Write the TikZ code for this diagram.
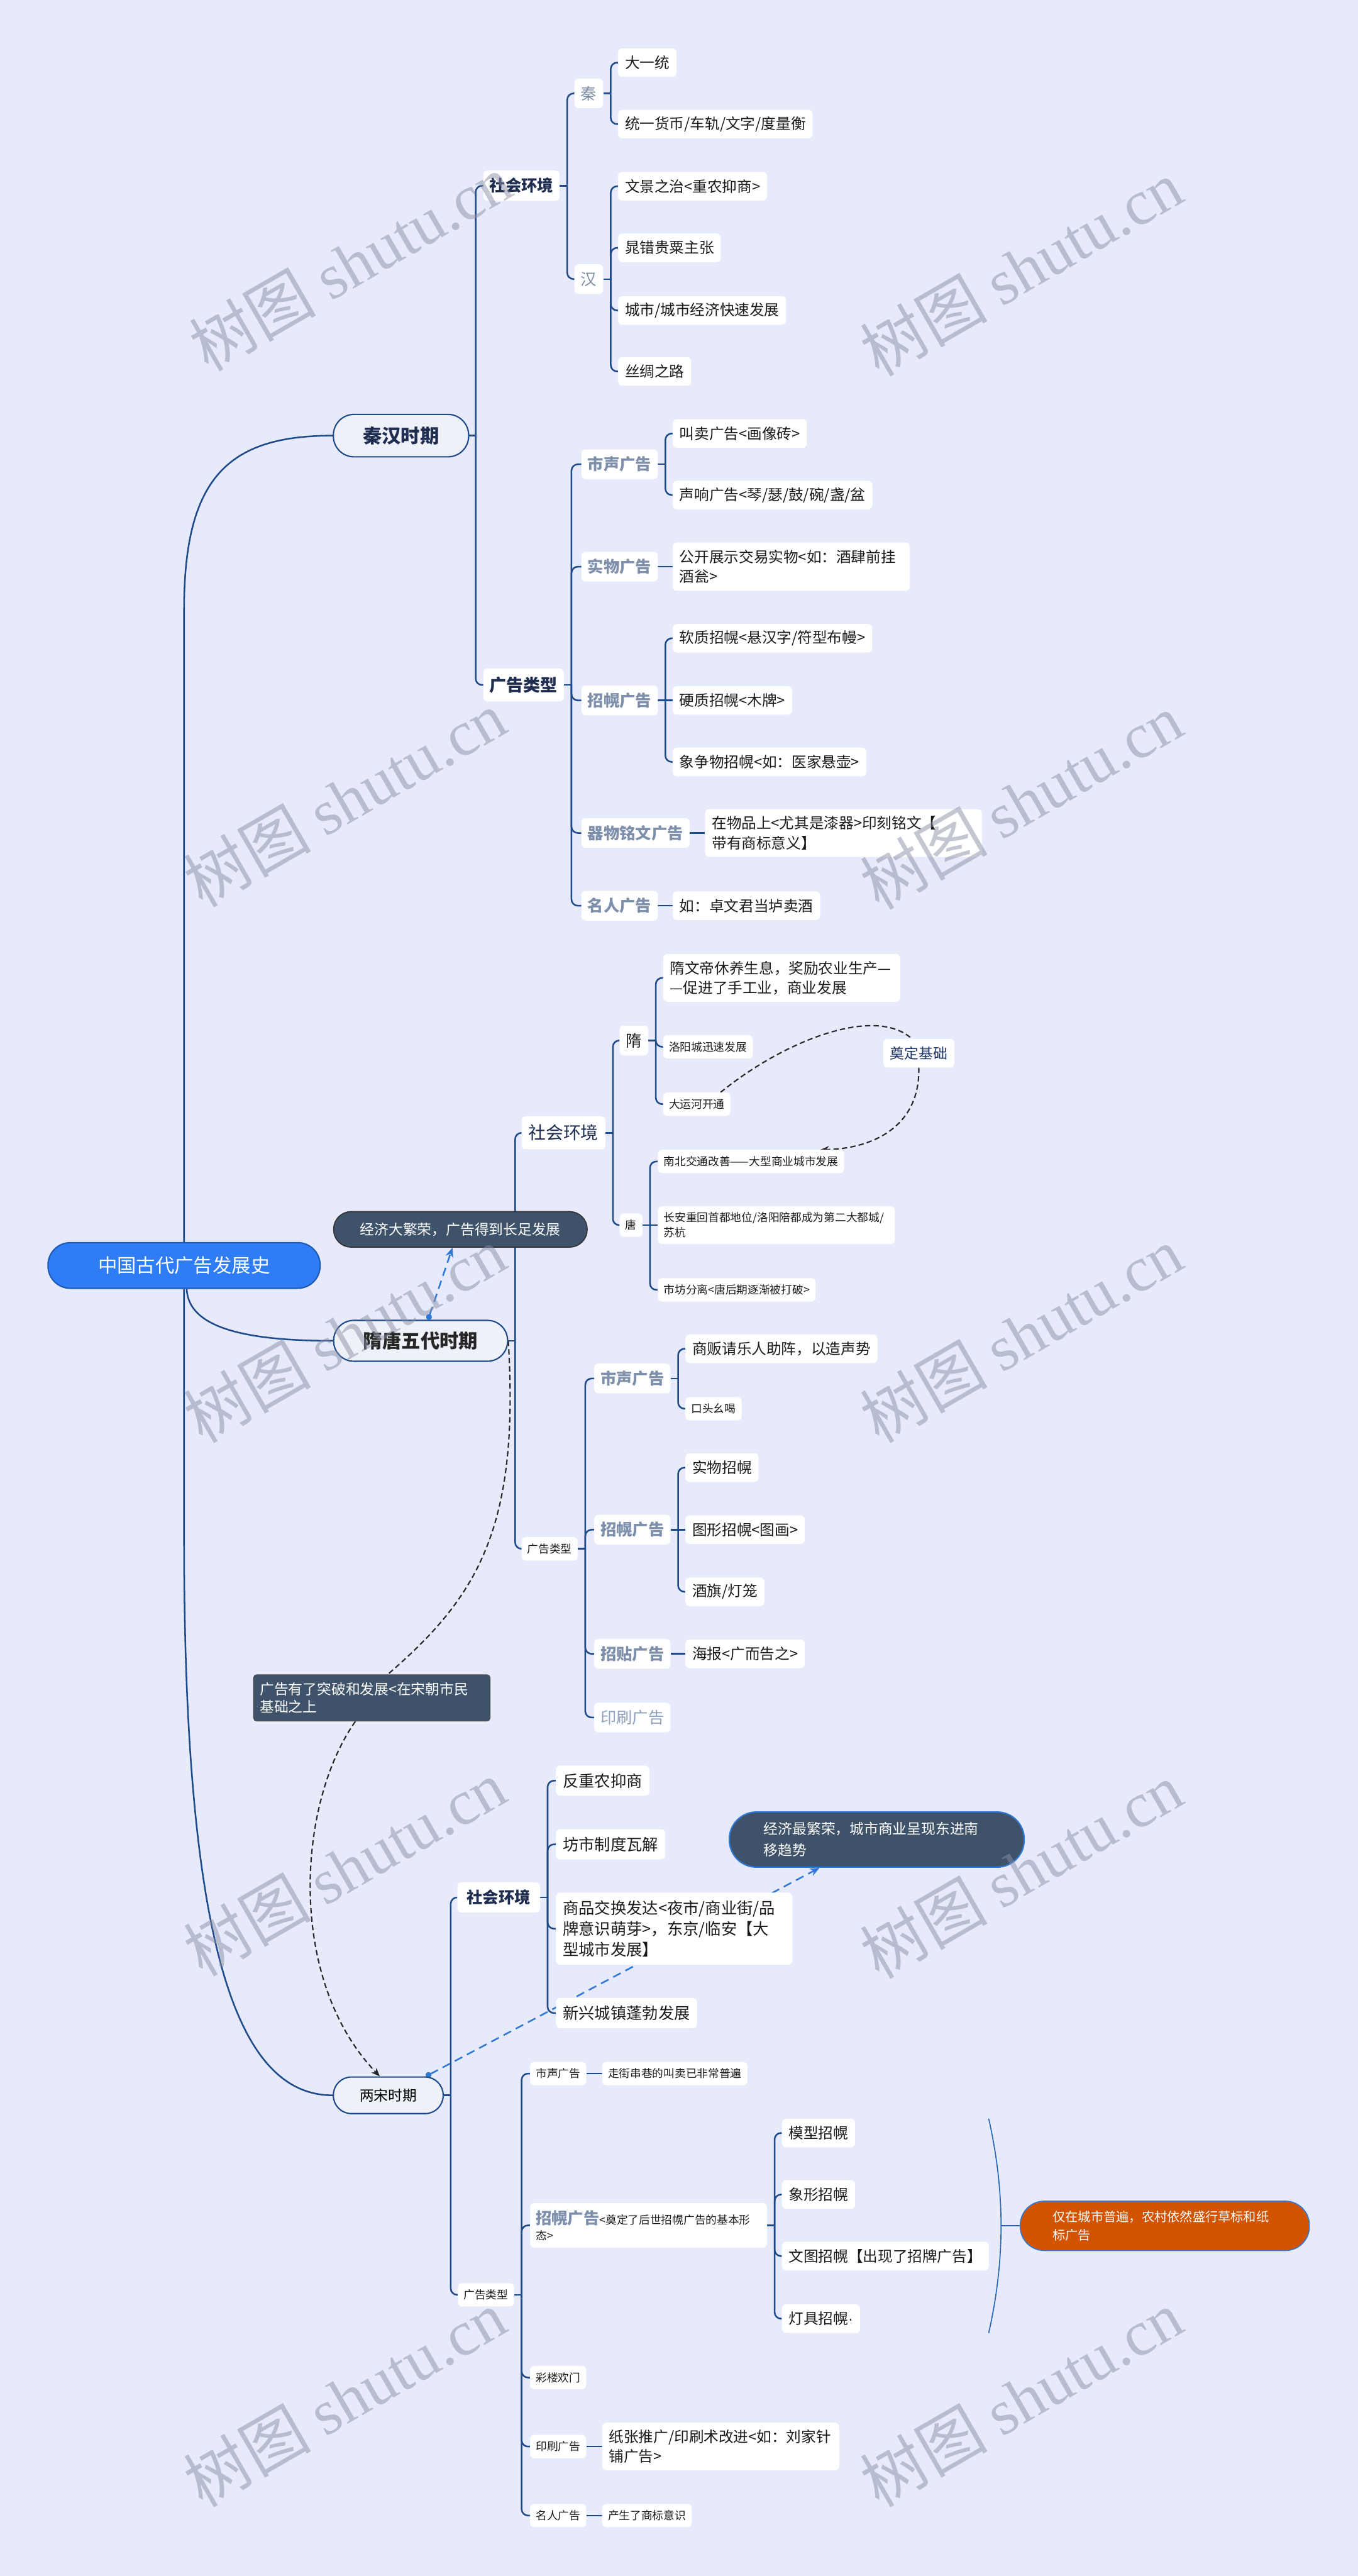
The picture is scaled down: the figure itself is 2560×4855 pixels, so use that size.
\documentclass[tikz,border=0pt]{standalone}
\usepackage{fontspec}
\setmainfont{Noto Sans CJK SC}
\newfontfamily\wmfont{Liberation Serif}
\newfontfamily\latinsans{Liberation Sans}
\usetikzlibrary{arrows.meta}
\definecolor{bgc}{HTML}{E6EAFB}
\definecolor{lnk}{HTML}{1E4A8A}
\definecolor{txt}{HTML}{1A1A1A}
\definecolor{slate}{HTML}{7D8FAB}
\definecolor{slatelt}{HTML}{8FA0BB}
\definecolor{navy}{HTML}{1E2D50}
\definecolor{calloutc}{HTML}{3E526A}
\definecolor{rootc}{HTML}{2F7DF6}
\definecolor{rootb}{HTML}{1E5AB4}
\definecolor{periodf}{HTML}{EEF1F8}
\definecolor{orng}{HTML}{D35400}
\definecolor{bdc}{HTML}{2F78D6}
\definecolor{ddc}{HTML}{1B3163}
\definecolor{wmc}{HTML}{8A8FA6}
\pgfdeclarelayer{bg}
\pgfdeclarelayer{links}
\pgfsetlayers{bg,links,main}
\newcommand\tlink[3]{\draw[link] (#1.east) -- ++(#3,0);
  \draw[link,rounded corners=12pt] (#1.east) ++(#3,0) |- (#2.west);}
\newcommand\slink[2]{\draw[link] (#1.east) -- (#2.west);}
\tikzset{
 link/.style={draw=lnk, line width=3pt},
 box/.style={fill=white, rounded corners=8pt, inner ysep=0pt, anchor=west, align=left, text=txt},
 lf/.style={box, inner xsep=13pt, minimum height=54pt, font=\fontsize{28}{37}\selectfont},
 sl/.style={box, inner xsep=11pt, minimum height=44pt, font=\fontsize{21}{28}\selectfont},
 ml/.style={box, inner xsep=13pt, minimum height=57pt, font=\fontsize{30}{39}\selectfont},
 cat/.style={box, inner xsep=12pt, minimum height=56pt, text=slate, font=\bfseries\fontsize{30}{38}\selectfont},
 sec/.style={box, inner xsep=12pt, minimum height=57pt, text=navy, font=\bfseries\fontsize{30}{38}\selectfont},
 dyn/.style={box, inner xsep=12pt, minimum height=56pt, text=slate, font=\fontsize{30}{38}\selectfont},
 period/.style={fill=periodf, draw=lnk, line width=2.5pt, inner sep=0pt, text=navy, font=\bfseries\fontsize{36}{40}\selectfont},
 rootn/.style={fill=rootc, draw=rootb, line width=2.5pt, inner sep=0pt, text=white, rounded corners=42pt, minimum width=513pt, minimum height=86pt, font=\fontsize{36}{40}\selectfont},
 cbox/.style={fill=calloutc, text=white, inner ysep=0pt, font=\fontsize{27}{34}\selectfont},
 orangebox/.style={fill=orng, draw=bdc, line width=2pt, text=white, rounded corners=45pt, inner xsep=61pt, inner ysep=0pt, text width=423pt, align=left, minimum height=93pt, font=\fontsize{24}{34}\selectfont},
 blk/.style={draw=black!85, line width=2.5pt, dash pattern=on 10pt off 6pt},
 bdash/.style={draw=bdc, line width=3pt, dash pattern=on 16pt off 10pt, {Circle[length=11pt]}-{Stealth[length=18pt,width=15pt]}},
 sumline/.style={draw=bdc!85!black, line width=2pt},
 wm/.style={text=wmc, opacity=0.5, rotate=30, font=\fontsize{120}{120}\selectfont}
}
\begin{document}
\begin{tikzpicture}[x=1pt,y=-1pt]
\useasboundingbox (0,0) rectangle (2560,4855);
\begin{pgfonlayer}{bg}
\fill[bgc] (0,0) rectangle (2560,4855);
\end{pgfonlayer}

% ---------- root and periods
\node[rootn] (root) at (347,2385) {中国古代广告发展史};
\node[period, minimum width=255pt, minimum height=80pt, rounded corners=39pt] (qh) at (756,821) {秦汉时期};
\node[period, minimum width=328pt, minimum height=77pt, rounded corners=38pt, text=black!85] (st) at (793,2527) {隋唐五代时期};
\node[period, minimum width=207pt, minimum height=69pt, rounded corners=34pt, text=black, font=\fontsize{27}{30}\selectfont] (ls) at (732,3949) {两宋时期};

% ---------- Qin Han
\node[sec] (qhs) at (911,350) {社会环境};
\node[sec, font=\bfseries\fontsize{32}{38}\selectfont, minimum height=62pt] (qha) at (911,1291) {广告类型};
\node[dyn] (qin) at (1083,176) {秦};
\node[dyn] (han) at (1083,526) {汉};
\node[lf] (q1) at (1165,118) {大一统};
\node[lf] (q2) at (1165,234) {统一货币/车轨/文字/度量衡};
\node[lf] (h1) at (1165,351) {文景之治<重农抑商>};
\node[lf] (h2) at (1165,467) {晁错贵粟主张};
\node[lf] (h3) at (1165,585) {城市/城市经济快速发展};
\node[lf] (h4) at (1165,700) {丝绸之路};
\node[cat] (qa1) at (1096,875) {市声广告};
\node[cat] (qa2) at (1096,1068) {实物广告};
\node[cat] (qa3) at (1096,1320) {招幌广告};
\node[cat] (qa4) at (1096,1570) {器物铭文广告};
\node[cat] (qa5) at (1096,1707) {名人广告};
\node[lf] (qa11) at (1268,817) {叫卖广告<画像砖>};
\node[lf] (qa12) at (1268,933) {声响广告<琴/瑟/鼓/碗/盏/盆};
\node[lf, text width=421pt, minimum height=91pt] (qa21) at (1268,1068) {公开展示交易实物<如：酒肆前挂\\酒瓮>};
\node[lf] (qa31) at (1268,1203) {软质招幌<悬汉字/符型布幔>};
\node[lf] (qa32) at (1268,1320) {硬质招幌<木牌>};
\node[lf] (qa33) at (1268,1436) {象争物招幌<如：医家悬壶>};
\node[lf, text width=496pt, minimum height=90pt] (qa41) at (1329,1570) {在物品上<尤其是漆器>印刻铭文【\\带有商标意义】};
\node[lf] (qa51) at (1268,1707) {如：卓文君当垆卖酒};

% ---------- Sui Tang
\node[cbox, draw=black!80, line width=2pt, rounded corners=33pt, minimum width=478pt, minimum height=67pt] (jj) at (868,2317) {经济大繁荣，广告得到长足发展};
\node[box, inner xsep=13pt, minimum height=62pt, text=navy, font=\fontsize{33}{38}\selectfont] (sts) at (983,2135) {社会环境};
\node[sl] (sta) at (983,2919) {广告类型};
\node[box, inner xsep=12pt, minimum height=56pt, font=\fontsize{30}{36}\selectfont] (sui) at (1168,1961) {隋};
\node[sl] (tang) at (1168,2309) {唐};
\node[lf, text width=421pt, minimum height=90pt] (s1) at (1250,1843) {隋文帝休养生息，奖励农业生产—\\—促进了手工业，商业发展};
\node[sl] (s2) at (1250,1973) {洛阳城迅速发展};
\node[sl] (s3) at (1250,2081) {大运河开通};
\node[lf, text=ddc, font=\fontsize{27}{34}\selectfont] (ddjc) at (1665,1985) {奠定基础};
\node[sl] (t1) at (1240,2189) {南北交通改善——大型商业城市发展};
\node[sl, text width=425pt, minimum height=71pt] (t2) at (1240,2309) {长安重回首都地位/洛阳陪都成为第二大都城/\\苏杭};
\node[sl] (t3) at (1240,2431) {市坊分离<唐后期逐渐被打破>};
\node[cat] (sa1) at (1120,2598) {市声广告};
\node[cat] (sa2) at (1120,2883) {招幌广告};
\node[cat] (sa3) at (1120,3117) {招贴广告};
\node[cat, text=slatelt, font=\fontsize{30}{38}\selectfont] (sa4) at (1120,3237) {印刷广告};
\node[lf] (sa11) at (1292,2542) {商贩请乐人助阵，以造声势};
\node[sl] (sa12) at (1292,2655) {口头幺喝};
\node[lf] (sa21) at (1292,2766) {实物招幌};
\node[lf] (sa22) at (1292,2883) {图形招幌<图画>};
\node[lf] (sa23) at (1292,3000) {酒旗/灯笼};
\node[lf] (sa31) at (1292,3117) {海报<广而告之>};
\node[cbox, draw=black!70, line width=1.5pt, rounded corners=6pt, inner xsep=12pt, text width=422pt, align=left, minimum height=87pt] (gg) at (701,3200) {广告有了突破和发展<在宋朝市民\\基础之上};

% ---------- Song
\node[sec, minimum width=156pt] (lss) at (862,3576) {社会环境};
\node[sl] (lsa) at (863,4325) {广告类型};
\node[ml] (w1) at (1048,3356) {反重农抑商};
\node[ml] (w2) at (1048,3476) {坊市制度瓦解};
\node[ml, text width=420pt, minimum height=136pt] (w3) at (1048,3635) {商品交换发达<夜市/商业街/品\\牌意识萌芽>，东京/临安【大\\型城市发展】};
\node[ml] (w4) at (1048,3794) {新兴城镇蓬勃发展};
\node[cbox, draw=bdc, line width=2.5pt, rounded corners=51pt, inner xsep=65pt, text width=426pt, align=left, minimum height=104pt, font=\fontsize{27}{40}\selectfont] (jm) at (1653,3467) {经济最繁荣，城市商业呈现东进南\\移趋势};
\node[sl] (la1) at (999,3908) {市声广告};
\node[sl, text width=425pt, minimum height=84pt, font=\fontsize{21}{30}\selectfont] (la2) at (999,4194) {{\bfseries\fontsize{30}{30}\selectfont\color{slate}招幌广告}<奠定了后世招幌广告的基本形\\态>};
\node[sl] (la3) at (999,4481) {彩楼欢门};
\node[sl] (la4) at (999,4611) {印刷广告};
\node[sl] (la5) at (999,4741) {名人广告};
\node[sl] (la11) at (1135,3908) {走街串巷的叫卖已非常普遍};
\node[lf] (la21) at (1474,4020) {模型招幌};
\node[lf] (la22) at (1474,4136) {象形招幌};
\node[lf] (la23) at (1474,4252) {文图招幌【出现了招牌广告】};
\node[lf] (la24) at (1474,4370) {灯具招幌{\latinsans·}};
\node[lf, text width=421pt, minimum height=90pt] (la41) at (1135,4611) {纸张推广/印刷术改进<如：刘家针\\铺广告>};
\node[sl] (la51) at (1135,4741) {产生了商标意识};
\node[orangebox] (org) at (2196,4195) {仅在城市普遍，农村依然盛行草标和纸\\标广告};
\coordinate (bt) at (1864,3993);
\coordinate (bb) at (1864,4397);
\coordinate (bm) at (1887,4195);

% ---------- links
\begin{pgfonlayer}{links}
\draw[link] (root.north) -- (347,1150) .. controls (347,900) and (430,821) .. (qh.west);
\draw[link] ([xshift=5pt]root.south) .. controls (355,2505) and (470,2527) .. (st.west);
\draw[link] (root.south) -- (347,2900) .. controls (347,3680) and (450,3949) .. (ls.west);
\tlink{qh}{qhs}{12}\tlink{qh}{qha}{12}
\tlink{qhs}{qin}{14}\tlink{qhs}{han}{14}
\tlink{qin}{q1}{14}\tlink{qin}{q2}{14}
\tlink{han}{h1}{14}\tlink{han}{h2}{14}\tlink{han}{h3}{14}\tlink{han}{h4}{14}
\tlink{qha}{qa1}{14}\tlink{qha}{qa2}{14}\tlink{qha}{qa3}{14}\tlink{qha}{qa4}{14}\tlink{qha}{qa5}{14}
\tlink{qa1}{qa11}{14}\tlink{qa1}{qa12}{14}
\slink{qa2}{qa21}
\tlink{qa3}{qa31}{14}\slink{qa3}{qa32}\tlink{qa3}{qa33}{14}
\slink{qa4}{qa41}
\slink{qa5}{qa51}
\tlink{st}{sts}{13}\tlink{st}{sta}{13}
\tlink{sts}{sui}{14}\tlink{sts}{tang}{14}
\tlink{sui}{s1}{14}\tlink{sui}{s2}{14}\tlink{sui}{s3}{14}
\tlink{tang}{t1}{14}\slink{tang}{t2}\tlink{tang}{t3}{14}
\tlink{sta}{sa1}{14}\tlink{sta}{sa2}{14}\tlink{sta}{sa3}{14}\tlink{sta}{sa4}{14}
\tlink{sa1}{sa11}{14}\tlink{sa1}{sa12}{14}
\tlink{sa2}{sa21}{14}\slink{sa2}{sa22}\tlink{sa2}{sa23}{14}
\slink{sa3}{sa31}
\tlink{ls}{lss}{13}\tlink{ls}{lsa}{13}
\tlink{lss}{w1}{14}\tlink{lss}{w2}{14}\tlink{lss}{w3}{14}\tlink{lss}{w4}{14}
\tlink{lsa}{la1}{14}\tlink{lsa}{la2}{14}\tlink{lsa}{la3}{14}\tlink{lsa}{la4}{14}\tlink{lsa}{la5}{14}
\slink{la1}{la11}
\tlink{la2}{la21}{14}\tlink{la2}{la22}{14}\tlink{la2}{la23}{14}\tlink{la2}{la24}{14}
\slink{la4}{la41}
\slink{la5}{la51}
% summary bracket
\draw[sumline] (bt) .. controls (1895,4130) and (1895,4260) .. (bb);
\draw[sumline] (bm) -- (org.west);
% relationships
\draw[blk] ([xshift=-19pt]s3.north east) .. controls (1480,1960) and (1650,1895) .. ([xshift=-13pt]ddjc.north);
\draw[blk, -{Stealth[length=16pt,width=13pt]}] (ddjc.south) .. controls (1735,2120) and (1650,2165) .. ([xshift=131pt]t1.north);
\draw[blk] (st.east) .. controls (980,2880) and (900,3010) .. ([xshift=30pt]gg.north);
\draw[blk, -{Stealth[length=16pt,width=13pt]}] ([xshift=-31pt]gg.south) .. controls (560,3400) and (540,3730) .. ([xshift=-16pt]ls.north);
\draw[bdash] ([xshift=14pt]st.north) -- ([xshift=-15pt]jj.south);
\draw[bdash] ([xshift=71pt]ls.north) -- ([xshift=-108pt]jm.south);
\end{pgfonlayer}

% ---------- watermarks
\foreach [count=\i] \x/\y in {660/495,1925/505,650/1505,1925/1510,650/2515,1925/2515,650/3520,1925/3525,650/4520,1925/4520}
  \node[wm] (wm\i) at (\x,\y) {树图 {\wmfont shutu.cn}};
\end{tikzpicture}
\end{document}
